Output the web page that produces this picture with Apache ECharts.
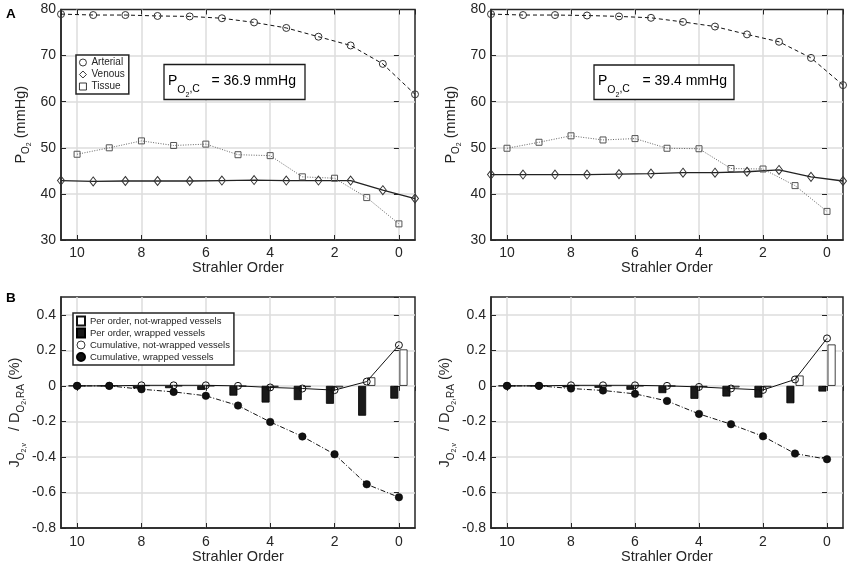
<!DOCTYPE html>
<html><head><meta charset="utf-8">
<script src="https://cdn.jsdelivr.net/npm/echarts@6/dist/echarts.min.js"></script>
<style>html,body{margin:0;padding:0;background:#fff}#c{width:851px;height:568px}</style>
</head><body><div id="c"></div>
<script>
// ---- data ----
const ordersHalf = [10.5, 9.5, 8.5, 7.5, 6.5, 5.5, 4.5, 3.5, 2.5, 1.5, 0.5, -0.5];
const orders = [10, 9, 8, 7, 6, 5, 4, 3, 2, 1, 0];
const xTickLabels = [10, 8, 6, 4, 2, 0];
const yTicksTop = [30, 40, 50, 60, 70, 80];
const yTicksBottom = [-0.8, -0.6, -0.4, -0.2, 0, 0.2, 0.4];

const arterialA = [79.0, 78.8, 78.8, 78.6, 78.5, 78.1, 77.2, 76.0, 74.1, 72.2, 68.2, 61.6];
const venousA   = [42.9, 42.7, 42.8, 42.8, 42.8, 42.9, 43.0, 42.9, 42.9, 42.9, 40.8, 39.0];
const tissueA   = [48.6, 50.0, 51.5, 50.5, 50.8, 48.5, 48.3, 43.7, 43.4, 39.2, 33.5];

const arterialB = [79.0, 78.8, 78.8, 78.7, 78.5, 78.2, 77.3, 76.3, 74.6, 73.0, 69.5, 63.6];
const venousB   = [44.2, 44.2, 44.2, 44.2, 44.3, 44.4, 44.6, 44.6, 44.8, 45.2, 43.7, 42.8];
const tissueB   = [49.9, 51.2, 52.6, 51.7, 52.0, 49.9, 49.8, 45.5, 45.4, 41.8, 36.2];

const perNotWrappedA = [0, 0, 0.003, 0, 0, -0.003, -0.005, -0.007, -0.009, 0.048, 0.205];
const perWrappedA    = [0, 0, -0.015, -0.013, -0.023, -0.055, -0.094, -0.080, -0.101, -0.168, -0.072];
const cumNotWrappedA = [0, 0, 0.003, 0.003, 0.003, 0, -0.009, -0.015, -0.024, 0.024, 0.229];
const cumWrappedA    = [0, 0, -0.019, -0.034, -0.056, -0.111, -0.203, -0.285, -0.385, -0.554, -0.627];

const perNotWrappedB = [0, 0, 0.003, 0, 0, -0.002, -0.006, -0.009, -0.008, 0.058, 0.233];
const perWrappedB    = [0, 0, -0.008, -0.011, -0.022, -0.041, -0.073, -0.060, -0.066, -0.098, -0.032];
const cumNotWrappedB = [0, 0, 0.003, 0.003, 0.003, 0, -0.006, -0.015, -0.023, 0.036, 0.267];
const cumWrappedB    = [0, 0, -0.015, -0.026, -0.045, -0.085, -0.158, -0.216, -0.284, -0.381, -0.413];

const pocA = '= 36.9 mmHg';
const pocB = '= 39.4 mmHg';

// ---- styles ----
const FF = '"Liberation Sans", Arial, Helvetica, sans-serif';
const TXT = '#262626';
const AX = '#262626';
const GRID = '#dcdcdc';
const zip = (xs, ys) => xs.map((x, i) => [x, ys[i]]);

const grids = [
  {left: 61, top: 9.5, width: 354, height: 230.5},
  {left: 491, top: 9.5, width: 352, height: 230.5},
  {left: 61, top: 297, width: 354, height: 231},
  {left: 491, top: 297, width: 352, height: 231}
].map(g => Object.assign(g, {show: true, borderColor: AX, borderWidth: 1.5, backgroundColor: '#fff', containLabel: false}));

function xAx(gi, nameGap, margin) {
  return {
    type: 'value', gridIndex: gi, min: -0.5, max: 10.5, inverse: true, splitNumber: 5,
    name: 'Strahler Order', nameLocation: 'middle', nameGap: nameGap,
    nameTextStyle: {fontSize: 14.5, color: TXT, fontFamily: FF},
    axisLine: {show: true, onZero: false, lineStyle: {color: AX, width: 1.5}},
    axisTick: {show: true, inside: true, length: 5, lineStyle: {color: AX, width: 1}},
    axisLabel: {margin: margin, fontSize: 14, color: TXT, fontFamily: FF, showMinLabel: false, showMaxLabel: false,
      formatter: v => xTickLabels.some(t => Math.abs(t - v) < 1e-6) ? String(Math.round(v)) : ''},
    splitLine: {show: true, showMinLine: false, showMaxLine: false, lineStyle: {color: GRID, width: 1.5}}
  };
}
function xAxTop(gi) {
  return {
    type: 'value', gridIndex: gi, min: -0.5, max: 10.5, inverse: true, splitNumber: 5, position: 'top',
    axisLine: {show: false}, axisLabel: {show: false}, splitLine: {show: false},
    axisTick: {show: true, inside: true, length: 5, lineStyle: {color: AX, width: 1}}
  };
}
const richTop = {
  m: {fontSize: 14.5, fontFamily: FF, color: TXT, verticalAlign: 'top', padding: [0, 0, 0, 0]},
  s: {fontSize: 10, fontFamily: FF, color: TXT, verticalAlign: 'top', padding: [8, 0, 0, 0]},
  ss: {fontSize: 7, fontFamily: FF, color: TXT, verticalAlign: 'top', padding: [13, 0, 0, 0]}
};
function yAx(gi, ticks, name, nameGap) {
  return {
    type: 'value', gridIndex: gi, min: ticks[0], max: gi < 2 ? ticks[ticks.length - 1] : 0.5,
    interval: Math.round((ticks[1] - ticks[0]) * 1000) / 1000,
    name: name, nameLocation: 'middle', nameGap: nameGap,
    nameTextStyle: {rich: richTop, fontFamily: FF, color: TXT},
    axisLine: {show: true, onZero: false, lineStyle: {color: AX, width: 1.5}},
    axisTick: {show: true, inside: true, length: 5, lineStyle: {color: AX, width: 1}},
    axisLabel: {margin: 5, fontSize: 14, color: TXT, fontFamily: FF, showMaxLabel: gi < 2,
      formatter: v => {
        const t = ticks.find(t => Math.abs(t - v) < 1e-6);
        return t === undefined ? '' : String(t);
      }},
    splitLine: {show: true, showMinLine: false, showMaxLine: false, lineStyle: {color: GRID, width: 1.5}}
  };
}
function yAxRight(gi, ticks) {
  return {
    type: 'value', gridIndex: gi, min: ticks[0], max: gi < 2 ? ticks[ticks.length - 1] : 0.5,
    interval: Math.round((ticks[1] - ticks[0]) * 1000) / 1000, position: 'right',
    axisLine: {show: false}, axisLabel: {show: false}, splitLine: {show: false},
    axisTick: {show: true, inside: true, length: 5, lineStyle: {color: AX, width: 1}}
  };
}

const nameTop = '{m|P}{s|O}{ss|2}{m| (mmHg)}';
const nameBottom = '{m|J}{s|O}{ss|2,v}{m|   / D}{s|O}{ss|2}{s|,RA}{m| (%)}';

const xAxis = [xAx(0, 18, 6), xAx(1, 18, 6), xAx(2, 21, 7), xAx(3, 21, 7),
               xAxTop(0), xAxTop(1), xAxTop(2), xAxTop(3)];
const yAxis = [yAx(0, yTicksTop, nameTop, 28), yAx(1, yTicksTop, nameTop, 28),
               yAx(2, yTicksBottom, nameBottom, 31), yAx(3, yTicksBottom, nameBottom, 31),
               yAxRight(0, yTicksTop), yAxRight(1, yTicksTop), yAxRight(2, yTicksBottom), yAxRight(3, yTicksBottom)];

const openMarker = c => ({color: 'rgba(255,255,255,0)', borderColor: c, borderWidth: 1});
const openLegend = {color: '#fff', borderColor: '#222', borderWidth: 0.9};

function topSeries(gi, art, ven, tis) {
  return [
    {type: 'line', name: 'Arterial', xAxisIndex: gi, yAxisIndex: gi, data: zip(ordersHalf, art),
     symbol: 'circle', symbolSize: 7, itemStyle: openMarker('#333'),
     lineStyle: {color: '#111', width: 1, type: [4, 3]}},
    {type: 'line', name: 'Venous', xAxisIndex: gi, yAxisIndex: gi, data: zip(ordersHalf, ven),
     symbol: 'diamond', symbolSize: [7, 9], itemStyle: openMarker('#333'),
     lineStyle: {color: '#222', width: 1.3, type: 'solid'}},
    {type: 'line', name: 'Tissue', xAxisIndex: gi, yAxisIndex: gi, data: zip(orders, tis),
     symbol: 'rect', symbolSize: 6, itemStyle: openMarker('#555'),
     lineStyle: {color: '#666', width: 1, type: [1, 1.5]}}
  ];
}
function bottomSeries(gi, pw, pnw, cnw, cw) {
  return [
    {type: 'bar', name: 'Per order, wrapped vessels', xAxisIndex: gi, yAxisIndex: gi, data: zip(orders, pw),
     barWidth: 8, barGap: '15%', itemStyle: {color: '#1a1a1a', borderColor: '#000', borderWidth: 0.8}},
    {type: 'bar', name: 'Per order, not-wrapped vessels', xAxisIndex: gi, yAxisIndex: gi, data: zip(orders, pnw),
     barWidth: 8, barGap: '15%', itemStyle: {color: '#fff', borderColor: '#111', borderWidth: 0.8}},
    {type: 'line', name: 'Cumulative, not-wrapped vessels', xAxisIndex: gi, yAxisIndex: gi, data: zip(orders, cnw),
     symbol: 'circle', symbolSize: 7, itemStyle: openMarker('#111'),
     lineStyle: {color: '#111', width: 1, type: 'solid'}},
    {type: 'line', name: 'Cumulative, wrapped vessels', xAxisIndex: gi, yAxisIndex: gi, data: zip(orders, cw),
     symbol: 'circle', symbolSize: 7.5, itemStyle: {color: '#111', borderColor: '#000', borderWidth: 0.5},
     lineStyle: {color: '#111', width: 1, type: [5, 2, 1, 2]}}
  ];
}

function pocBox(bx, by, bw, bh, px, ex, label) {
  const top = 74.6;
  const rich = {
    m: {fontSize: 14, fontFamily: FF, fill: '#000', verticalAlign: 'top', padding: [0, 0, 0, 0]},
    s: {fontSize: 10.5, fontFamily: FF, fill: '#000', verticalAlign: 'top', padding: [10.5, 0, 0, 0]},
    ss: {fontSize: 7, fontFamily: FF, fill: '#000', verticalAlign: 'top', padding: [16.5, 0, 0, 0]},
    c: {fontSize: 10.5, fontFamily: FF, fill: '#000', verticalAlign: 'top', padding: [9, 0, 0, 0]}
  };
  return [
    {type: 'rect', z: 10, shape: {x: bx, y: by, width: bw, height: bh},
     style: {fill: '#fff', stroke: '#1a1a1a', lineWidth: 1.3}},
    {type: 'text', z: 11, x: px, y: top,
     style: {text: '{m|P}{s|O}{ss|2}{c|,C}', rich: rich, verticalAlign: 'top', align: 'left'}},
    {type: 'text', z: 11, x: ex, y: top,
     style: {text: '{m|' + label + '}', rich: rich, verticalAlign: 'top', align: 'left'}}
  ];
}

const option = {
  animation: false,
  backgroundColor: '#fff',
  textStyle: {fontFamily: FF},
  grid: grids,
  xAxis: xAxis,
  yAxis: yAxis,
  legend: [
    {left: 76, top: 55, orient: 'vertical',
     data: [{name: 'Arterial', icon: 'circle', itemStyle: openLegend},
            {name: 'Venous', icon: 'diamond', itemStyle: openLegend},
            {name: 'Tissue', icon: 'rect', itemStyle: openLegend}],
     padding: [1.5, 4, 1.5, 3], itemGap: 0, itemWidth: 7, itemHeight: 7,
     textStyle: {fontSize: 10, lineHeight: 12, color: TXT, fontFamily: FF},
     backgroundColor: '#fff', borderColor: AX, borderWidth: 1.5, selectedMode: false, z: 20},
    {left: 73, top: 313, orient: 'vertical',
     data: [{name: 'Per order, not-wrapped vessels', icon: 'rect'}, {name: 'Per order, wrapped vessels', icon: 'rect'},
            {name: 'Cumulative, not-wrapped vessels', icon: 'circle', itemStyle: openLegend},
            {name: 'Cumulative, wrapped vessels', icon: 'circle'}],
     padding: [2, 4, 2, 3], itemGap: 0, itemWidth: 8, itemHeight: 9,
     textStyle: {fontSize: 9.5, lineHeight: 12, color: TXT, fontFamily: FF},
     backgroundColor: '#fff', borderColor: AX, borderWidth: 1.5, selectedMode: false, z: 20}
  ],
  graphic: [
    {type: 'text', x: 6, y: 7, style: {text: 'A', font: 'bold 13.5px ' + FF, fill: '#000'}},
    {type: 'text', x: 6, y: 291.5, style: {text: 'B', font: 'bold 13.5px ' + FF, fill: '#000'}}
  ].concat(pocBox(164, 64.5, 141, 35, 168, 211.5, pocA))
   .concat(pocBox(594, 65, 140, 34.5, 598, 642.5, pocB)),
  series: [].concat(
    topSeries(0, arterialA, venousA, tissueA),
    topSeries(1, arterialB, venousB, tissueB),
    bottomSeries(2, perWrappedA, perNotWrappedA, cumNotWrappedA, cumWrappedA),
    bottomSeries(3, perWrappedB, perNotWrappedB, cumNotWrappedB, cumWrappedB)
  )
};
const chart = echarts.init(document.getElementById('c'), null, {renderer: 'canvas'});
chart.setOption(option);
</script>
</body></html>
